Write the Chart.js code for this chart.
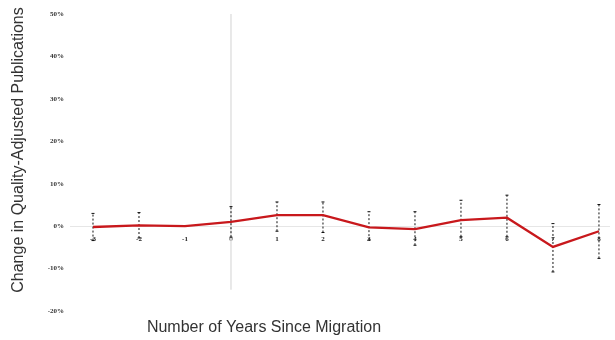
<!DOCTYPE html>
<html lang="en">
<head>
<meta charset="UTF-8">
<title>Event study: publications after migration</title>
<script src="https://cdn.jsdelivr.net/npm/chart.js"></script>
<style>
  html, body { margin: 0; padding: 0; background: #fff; }
  .wrap { width: 615px; height: 340px; position: relative; }
</style>
</head>
<body>
<div class="wrap"><canvas id="eventChart" width="615" height="340"></canvas></div>
<script>
// years relative to migration (year -1 is the omitted reference year)
const years = [-3, -2, -1, 0, 1, 2, 3, 4, 5, 6, 7, 8];
// point estimates, percent change
const effect = [-0.2, 0.2, 0, 1.0, 2.6, 2.6, -0.3, -0.7, 1.4, 2.0, -4.9, -1.2];
// confidence interval bounds, percent
const ciLow = [-3.4, -2.8, null, -2.6, -1.2, -1.5, -3.3, -4.5, -2.5, -2.5, -10.8, -7.6];
const ciHigh = [3.0, 3.2, null, 4.6, 5.7, 5.7, 3.4, 3.4, 6.1, 7.3, 0.6, 5.1];
const yTicks = [-20, -10, 0, 10, 20, 30, 40, 50];

const yTitle = 'Change in Quality-Adjusted Publications';
const xTitle = 'Number of Years Since Migration';

// each interval is a two point segment, separated by a gap
const ciPoints = [];
years.forEach((yr, i) => {
  if (ciLow[i] === null) return;
  ciPoints.push({x: yr, y: ciLow[i]}, {x: yr, y: ciHigh[i]}, {x: yr, y: null});
});

const titles = {
  id: 'axisTitles',
  afterDraw(chart) {
    const ctx = chart.ctx;
    ctx.save();
    ctx.fillStyle = '#333';
    ctx.font = '16px "Liberation Sans", Arial, sans-serif';
    ctx.textAlign = 'center';
    ctx.textBaseline = 'middle';
    ctx.fillText(xTitle, 264, 328);
    ctx.translate(19, 150);
    ctx.rotate(-Math.PI / 2);
    ctx.fillText(yTitle, 0, 0);
    ctx.restore();
  }
};

new Chart(document.getElementById('eventChart'), {
  type: 'line',
  data: {
    datasets: [
      {
        label: 'estimate',
        order: 1,
        data: years.map((yr, i) => ({x: yr, y: effect[i]})),
        borderColor: '#c8181c',
        borderWidth: 2.3,
        pointRadius: 0,
        tension: 0
      },
      {
        label: 'interval',
        order: 2,
        data: ciPoints,
        borderColor: '#111',
        borderWidth: 1,
        borderDash: [2, 2],
        spanGaps: false,
        pointStyle: 'line',
        pointRadius: 1.5,
        pointBorderColor: '#111',
        pointBorderWidth: 1
      },
      {
        label: 'migration year',
        order: 3,
        data: [{x: 0, y: 50}, {x: 0, y: -15}],
        borderColor: '#e2e2e2',
        borderWidth: 1.5,
        pointRadius: 0
      }
    ]
  },
  options: {
    responsive: false,
    animation: false,
    maintainAspectRatio: false,
    layout: { padding: { top: 14, bottom: 29, right: 0, left: 0 } },
    plugins: { legend: { display: false }, tooltip: { enabled: false } },
    scales: {
      x: {
        type: 'linear',
        position: { y: 0 },
        min: -3.5,
        max: 8.24,
        border: { display: false },
        grid: { display: false, drawTicks: false },
        afterBuildTicks: s => { s.ticks = years.map(v => ({value: v})); },
        ticks: {
          padding: 9,
          color: '#222',
          font: { family: '"Liberation Serif", serif', size: 7, weight: 'bold' },
          maxRotation: 0,
          autoSkip: false
        }
      },
      y: {
        min: -20,
        max: 50,
        border: { display: false },
        afterFit: s => { s.width = 70; },
        afterBuildTicks: s => { s.ticks = yTicks.map(v => ({value: v})); },
        grid: {
          drawTicks: false,
          color: c => (c.tick && c.tick.value === 0) ? '#e6e6e6' : 'rgba(0,0,0,0)'
        },
        ticks: {
          padding: 6,
          color: '#333',
          font: { family: '"Liberation Serif", serif', size: 7, weight: 'bold' },
          callback: v => v + '%'
        }
      }
    }
  },
  plugins: [titles]
});
</script>
</body>
</html>
